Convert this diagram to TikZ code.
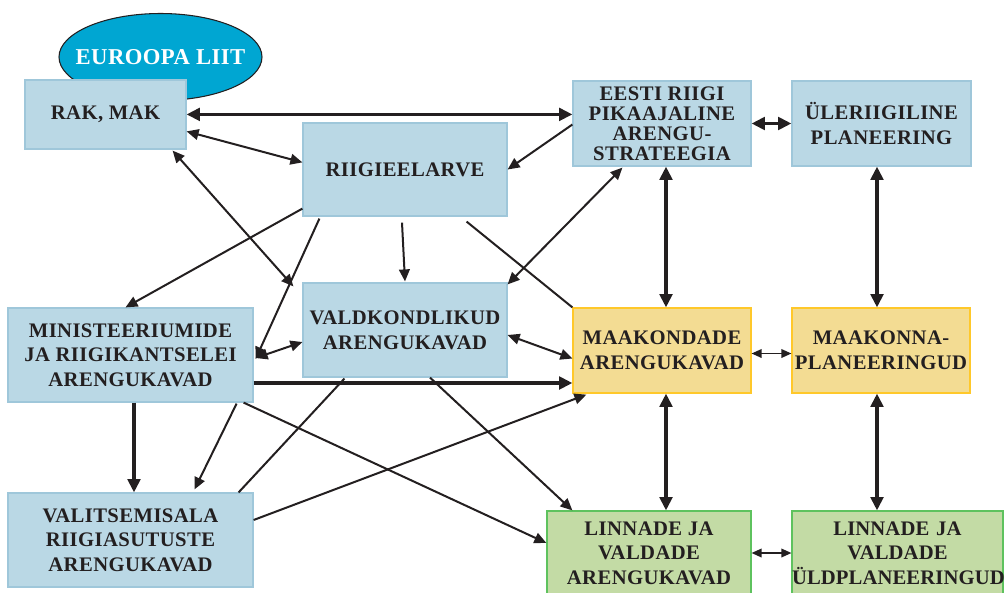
\documentclass[tikz,border=0pt]{standalone}
\usepackage{fontspec}
\setmainfont{Liberation Serif}[LetterSpace=2]
\usetikzlibrary{arrows.meta,calc,shapes.geometric}

\definecolor{ink}{HTML}{231F20}
\definecolor{bluefill}{HTML}{BAD8E5}
\definecolor{blueline}{HTML}{9FC7DA}
\definecolor{yelfill}{HTML}{F3DC93}
\definecolor{yelline}{HTML}{FFC82A}
\definecolor{grnfill}{HTML}{C3DBA5}
\definecolor{grnline}{HTML}{5EC25E}
\definecolor{eufill}{HTML}{00A6D2}

\tikzset{
  sz/.style 2 args={minimum width=#1*0.75pt, minimum height=#2*0.75pt},
  boxbase/.style={rectangle, line width=0.9pt, align=center, inner sep=0pt,
    text=ink, font=\fontsize{15.5}{18.5}\selectfont\bfseries},
  bluebox/.style={boxbase, draw=blueline, fill=bluefill},
  yelbox/.style={boxbase, draw=yelline, fill=yelfill},
  grnbox/.style={boxbase, draw=grnline, fill=grnfill},
  link/.style={draw=ink, line width=1.5pt, >={Triangle[length=9pt,width=8pt]}},
  heavy/.style={draw=ink, line width=2.4pt, >={Triangle[length=10pt,width=9.5pt]}},
  light/.style={draw=ink, line width=1pt, >={Triangle[length=7.5pt,width=6.5pt]}},
}

\begin{document}
\begin{tikzpicture}[x=0.75pt,y=-0.75pt]
\clip (0,0) rectangle (1004,593);
\useasboundingbox (0,0) rectangle (1004,593);

% European Union ellipse behind the RAK box
\node[ellipse, draw=ink, line width=0.8pt, fill=eufill, sz={203}{87}, inner sep=0pt] (eu) at (160.5,57) {};
\node[text=white, font=\fontsize{17}{18}\selectfont\bfseries, inner sep=0pt] (eutext) at (eu.center) {EUROOPA LIIT};

% national level
\node[bluebox, sz={161}{69}] (rak) at (105.5,114.5) {RAK, MAK};
\node[bluebox, sz={204}{93}] (riik) at (405,169.5) {RIIGIEELARVE};
\node[bluebox, sz={178}{85}, font=\fontsize{15.5}{15}\selectfont\bfseries] (eesti) at (662,123.5)
  {EESTI RIIGI\\PIKAAJALINE\\ARENGU-\\STRATEEGIA};
\node[bluebox, sz={179}{85}] (uler) at (881.5,123.5) {ÜLERIIGILINE\\PLANEERING};
\node[bluebox, sz={204}{94}] (vald) at (405,330) {VALDKONDLIKUD\\ARENGUKAVAD};
\node[bluebox, sz={245}{94}] (mini) at (130.5,355) {MINISTEERIUMIDE\\JA RIIGIKANTSELEI\\ARENGUKAVAD};
\node[bluebox, sz={245}{94}] (valit) at (130.5,540) {VALITSEMISALA\\RIIGIASUTUSTE\\ARENGUKAVAD};

% county level
\node[yelbox, sz={178}{85}] (maak) at (662,350.5) {MAAKONDADE\\ARENGUKAVAD};
\node[yelbox, sz={178}{85}] (maakp) at (881,350.5) {MAAKONNA-\\PLANEERINGUD};

% local level
\node[grnbox, sz={204}{84}] (linar) at (649,553) {LINNADE JA\\VALDADE\\ARENGUKAVAD};
\node[grnbox, sz={211}{84}, text width=211*0.75pt,
      font=\fontsize{15.5}{18.5}\selectfont\bfseries\addfontfeature{LetterSpace=0.5}] (linud) at (897.5,553)
  {LINNADE JA\\VALDADE\\ÜLDPLANEERINGUD};

% connectors
\draw[heavy,<->] ($(rak.north east)+(0,35)$) -- ($(eesti.north west)+(0,34)$);
\draw[link,<->] ($(rak.north east)+(0,52)$) -- ($(riik.north west)+(0,40)$);
\draw[link,->] ($(eesti.west)+(0,1)$) -- ($(riik.east)+(0,0)$);
\draw[link,<->] ($(rak.south east)+(-14,1)$) -- ($(vald.north west)+(-9,4)$);
\draw[link,->] ($(riik.south west)+(0,-8)$) -- ($(mini.north)+(-5,0)$);
\draw[link,->] ($(riik.south)+(-3,6)$) -- ($(vald.north)+(0,-1)$);
\draw[link,->] ($(riik.south west)+(17,2)$) -- ($(mini.east)+(2,4)$);
\draw[link,->] ($(mini.south east)+(-17,1)$) -- ($(valit.north)+(64,-3)$);
\draw[link,<->] ($(mini.east)+(2,3)$) -- ($(vald.west)+(0,12)$);
\draw[heavy,->] ($(mini.east)+(0,28)$) -- ($(maak.west)+(0,32.5)$);
\draw[heavy,->] ($(mini.south)+(3.5,0)$) -- ($(valit.north)+(3.5,0)$);
\draw[link,->] ($(mini.south east)+(-10,0)$) -- ($(linar.west)+(0,-10)$);
\draw[link] ($(valit.north east)+(-15,0)$) -- ($(vald.south west)+(42,1)$);
\draw[link,->] ($(valit.east)+(0,-20)$) -- ($(maak.south west)+(14,1)$);
\draw[link,<->] ($(vald.east)+(0,5)$) -- ($(maak.west)+(0,8)$);
\draw[link,->] ($(vald.south)+(25,0)$) -- ($(linar.north west)+(26,0)$);
\draw[link] ($(riik.south east)+(-41,5)$) -- (maak.north west);
\draw[link,<->] ($(eesti.south west)+(50,1)$) -- ($(vald.north east)+(0,2)$);
\draw[heavy,<->] (eesti.east) -- (uler.west);
\draw[heavy,<->] ($(eesti.south)+(4,0)$) -- ($(maak.north)+(4,0)$);
\draw[heavy,<->] ($(uler.south)+(-4.5,0)$) -- ($(maakp.north)+(-4,0)$);
\draw[light,<->] ($(maak.east)+(0,3)$) -- ($(maakp.west)+(0,3)$);
\draw[heavy,<->] ($(maak.south)+(4,0)$) -- ($(linar.north)+(17,0)$);
\draw[heavy,<->] ($(maakp.south)+(-4,0)$) -- ($(linud.north)+(-20.5,0)$);
\draw[light,<->] (linar.east) -- (linud.west);
\end{tikzpicture}
\end{document}
